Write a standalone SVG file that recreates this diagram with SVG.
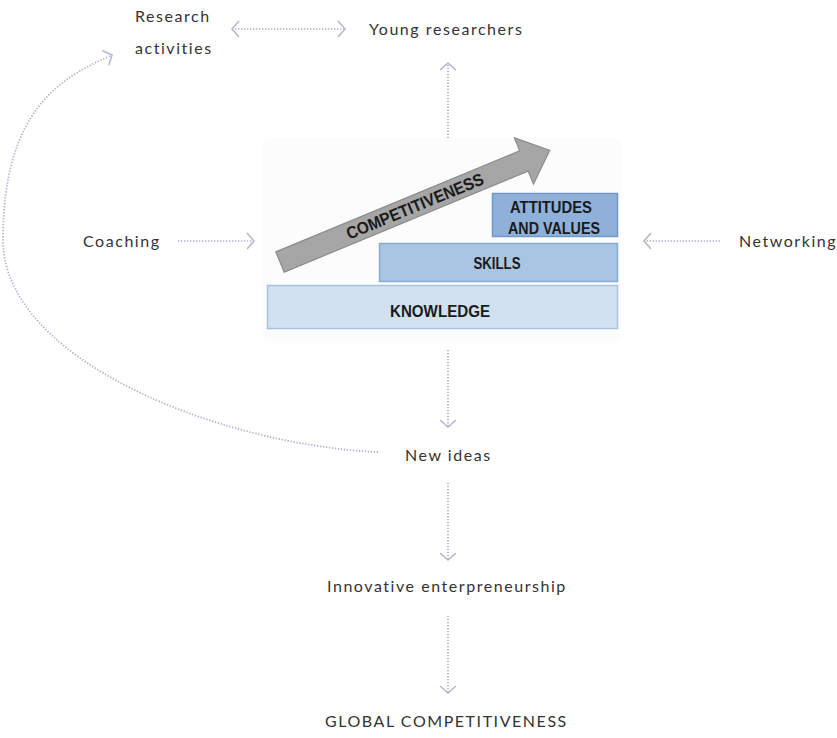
<svg xmlns="http://www.w3.org/2000/svg" width="837" height="738" viewBox="0 0 837 738">
<defs>
<style>
.lbl{font-family:Lato,"Liberation Sans",sans-serif;font-size:16px;fill:#333;letter-spacing:1.55px}
.box{font-family:"Liberation Sans",Arial,sans-serif;font-weight:bold;font-size:17px;fill:#1a1a1a;text-anchor:middle}
.con{fill:none;stroke:#a8b0c5;stroke-width:1.7;stroke-dasharray:1.3 1.7}
</style>
<marker id="chev" viewBox="-10 -10 20 20" refX="0" refY="0" markerWidth="20" markerHeight="20" markerUnits="userSpaceOnUse" orient="auto-start-reverse">
<path d="M-7,-8 L0,0 L-7,8" fill="none" stroke="#b3bacb" stroke-width="1.6"/>
</marker>
</defs>
<rect width="837" height="738" fill="#fff"/>

<g id="core">
<rect x="263" y="138" width="358" height="205" rx="8" fill="#fcfcfc"/>
<g id="knowledge">
<rect x="267.5" y="285.5" width="350" height="43" fill="#d2e1ef" stroke="#a9c2dc" stroke-width="1.5"/>
<text class="box" x="440" y="317" textLength="100" lengthAdjust="spacingAndGlyphs">KNOWLEDGE</text>
</g>
<g id="skills">
<rect x="379.5" y="243.5" width="238" height="38" fill="#a9c5e1" stroke="#8aabd0" stroke-width="1.5"/>
<text class="box" x="497" y="269" textLength="47" lengthAdjust="spacingAndGlyphs">SKILLS</text>
</g>
<g id="attitudes">
<rect x="492.5" y="193.5" width="125" height="43" fill="#8fb1d9" stroke="#7198c6" stroke-width="1.5"/>
<text class="box" x="551" y="213" textLength="82" lengthAdjust="spacingAndGlyphs">ATTITUDES</text>
<text class="box" x="554" y="234" textLength="92" lengthAdjust="spacingAndGlyphs">AND VALUES</text>
</g>
<g id="competitiveness" transform="translate(280,262) rotate(-22.5)">
<path d="M0,-11 L264,-11 L264,-25 L292,0 L264,25 L264,11 L0,11 Z" fill="#a6a6a6" stroke="#8c8c8c" stroke-width="1.2"/>
<text class="box" x="146" y="6" font-size="16" textLength="147" lengthAdjust="spacingAndGlyphs">COMPETITIVENESS</text>
</g>
</g>

<g id="research"><text class="lbl" x="135" y="22">Research</text><text class="lbl" x="135" y="54">activities</text></g>
<g id="young"><text class="lbl" x="369" y="35">Young researchers</text></g>
<g id="coaching"><text class="lbl" x="83" y="247">Coaching</text></g>
<g id="networking"><text class="lbl" x="739" y="247">Networking</text></g>
<g id="newideas"><text class="lbl" x="405" y="461">New ideas</text></g>
<g id="innovative"><text class="lbl" x="327" y="592">Innovative enterpreneurship</text></g>
<g id="global"><text class="lbl" x="325" y="727">GLOBAL COMPETITIVENESS</text></g>

<g id="connectors">
<path class="con" d="M232,29 L345,29" marker-start="url(#chev)" marker-end="url(#chev)"/>
<path class="con" d="M448,138 L448,63" marker-end="url(#chev)"/>
<path class="con" d="M178,241 L254,241" marker-end="url(#chev)"/>
<path class="con" d="M720,241 L644,241" marker-end="url(#chev)"/>
<path class="con" d="M448,350 L448,427" marker-end="url(#chev)"/>
<path class="con" d="M448,483 L448,560" marker-end="url(#chev)"/>
<path class="con" d="M448,616 L448,693" marker-end="url(#chev)"/>
<path class="con" d="M378,452 C220,445 3,360 3,240 C3,110 60,78 112,55" marker-end="url(#chev)"/>
</g>
</svg>
